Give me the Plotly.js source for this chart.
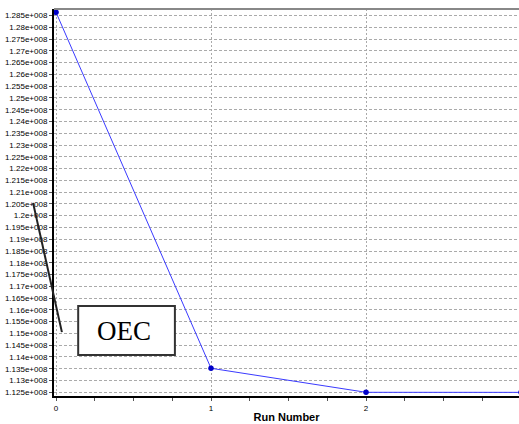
<!DOCTYPE html>
<html><head><meta charset="utf-8">
<script src="https://cdn.plot.ly/plotly-3.0.1.min.js"></script>
<style>html,body{margin:0;padding:0;background:#fff;}#chart{width:519px;height:424px;}</style>
</head><body><div id="chart"></div>
<script>
var runNumbers = [0, 1, 2, 3];
var oecValues = [128636000, 113520000, 112500000, 112498000];
var yTickVals = [112500000,113000000,113500000,114000000,114500000,115000000,115500000,116000000,116500000,117000000,117500000,118000000,118500000,119000000,119500000,120000000,120500000,121000000,121500000,122000000,122500000,123000000,123500000,124000000,124500000,125000000,125500000,126000000,126500000,127000000,127500000,128000000,128500000];
var yTickText = ["1.125e+008","1.13e+008","1.135e+008","1.14e+008","1.145e+008","1.15e+008","1.155e+008","1.16e+008","1.165e+008","1.17e+008","1.175e+008","1.18e+008","1.185e+008","1.19e+008","1.195e+008","1.2e+008","1.205e+008","1.21e+008","1.215e+008","1.22e+008","1.225e+008","1.23e+008","1.235e+008","1.24e+008","1.245e+008","1.25e+008","1.255e+008","1.26e+008","1.265e+008","1.27e+008","1.275e+008","1.28e+008","1.285e+008"];
var xTickVals = [0, 1, 2, 3];
var xTickText = ["0", "1", "2", "3"];

var trace = {
  x: runNumbers, y: oecValues, type: 'scatter', mode: 'lines+markers',
  line: {color: '#3a3aff', width: 1},
  marker: {color: '#0000c8', size: 5.5, symbol: 'circle'},
  hoverinfo: 'none'
};
var layout = {
  width: 519, height: 424,
  margin: {l: 54, r: 0, t: 9, b: 28},
  paper_bgcolor: '#fff', plot_bgcolor: '#fff',
  showlegend: false,
  font: {family: 'Liberation Sans, Arial, sans-serif', color: '#000'},
  xaxis: {
    range: [-0.013, 2.987],
    tickmode: 'array', tickvals: xTickVals, ticktext: xTickText,
    tickfont: {size: 8, color: '#000'},
    ticks: 'outside', ticklen: 3, tickcolor: '#555', tickwidth: 1,
    showgrid: true, gridcolor: '#aaa', griddash: '2px,2px', gridwidth: 1,
    minor: {dtick: 0.25, ticks: 'outside', ticklen: 3, tickcolor: '#555', showgrid: false},
    showline: true, linecolor: '#000', linewidth: 2,
    zeroline: false,
    title: {text: 'Run Number', font: {size: 11, color: '#000', family: 'Liberation Sans, Arial, sans-serif', weight: 'bold'}, standoff: 2}
  },
  yaxis: {
    range: [112343000, 128776000],
    tickmode: 'array', tickvals: yTickVals, ticktext: yTickText,
    tickfont: {size: 8, color: '#000'},
    ticks: 'outside', ticklen: 3, tickcolor: '#555', tickwidth: 1,
    showgrid: true, gridcolor: '#aaa', griddash: '3px,2px', gridwidth: 1,
    showline: true, linecolor: '#000', linewidth: 2,
    zeroline: false
  },
  shapes: [
    {type: 'line', xref: 'paper', yref: 'paper', x0: 0, x1: 1, y0: 1, y1: 1, line: {color: '#888', width: 2}},
    {type: 'line', xref: 'paper', yref: 'paper', x0: -0.045, y0: 0.499, x1: 0.017, y1: 0.165, line: {color: '#222', width: 2}},
    {type: 'rect', xref: 'paper', yref: 'paper', x0: 0.052, x1: 0.260, y0: 0.106, y1: 0.2326, line: {color: '#333', width: 2}, fillcolor: '#fff'}
  ],
  annotations: [
    {xref: 'paper', yref: 'paper', x: 0.1505, y: 0.167, text: 'OEC', showarrow: false,
     xanchor: 'center', yanchor: 'middle',
     font: {family: 'Liberation Serif, Times New Roman, serif', size: 27, color: '#000'}}
  ]
};
Plotly.newPlot('chart', [trace], layout, {displayModeBar: false, staticPlot: true});
</script></body></html>
